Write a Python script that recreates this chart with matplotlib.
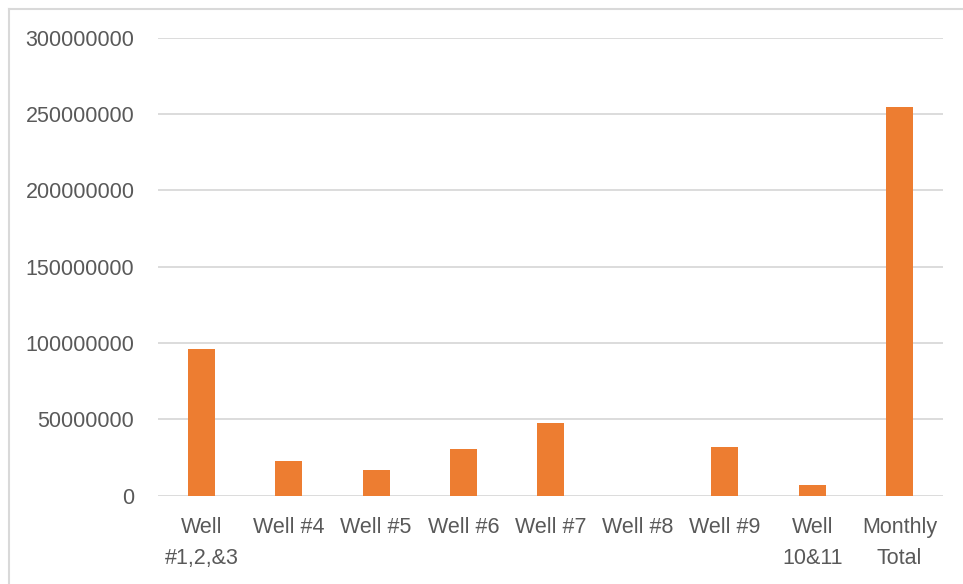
import matplotlib.pyplot as plt
from matplotlib.lines import Line2D

plt.rcParams['font.family'] = ['Liberation Sans', 'DejaVu Sans']

wells = ['Well\n#1,2,&3', 'Well #4', 'Well #5', 'Well #6', 'Well #7',
         'Well #8', 'Well #9', 'Well\n10&11', 'Monthly\nTotal']
volumes = [96100000, 22900000, 16800000, 30600000, 47400000,
           0, 32100000, 6800000, 254900000]
yticks = [0, 50000000, 100000000, 150000000, 200000000, 250000000, 300000000]

bar_color = '#ED7D31'
text_color = '#595959'
grid_color = '#d9d9d9'

fig = plt.figure(figsize=(9.63, 5.84), dpi=100)
ax = fig.add_axes([158 / 963, 1 - 495.7 / 584, 785 / 963, 457.8 / 584])

ax.bar(range(len(wells)), volumes, width=0.31, color=bar_color, zorder=3)

ax.set_xlim(-0.5, len(wells) - 0.5)
ax.set_ylim(0, 300000000)
ax.set_yticks(yticks)
ax.set_yticklabels([str(v) for v in yticks])
ax.set_xticks(range(len(wells)))
ax.set_xticklabels(wells, linespacing=1.65)

ax.tick_params(axis='both', length=0, labelsize=15.5, labelcolor=text_color)
ax.tick_params(axis='y', pad=17)
ax.tick_params(axis='x', pad=15)
ax.grid(axis='y', color=grid_color, linewidth=1.3, zorder=0)
for s in ax.spines.values():
    s.set_visible(False)

# chart border (only left and top are visible in the crop)
fig.add_artist(Line2D([9 / 963, 9 / 963], [0, 1 - 9 / 584], color=grid_color, lw=1.5))
fig.add_artist(Line2D([9 / 963, 1], [1 - 9 / 584, 1 - 9 / 584], color=grid_color, lw=1.5))

fig.savefig('out.png', dpi=100)
